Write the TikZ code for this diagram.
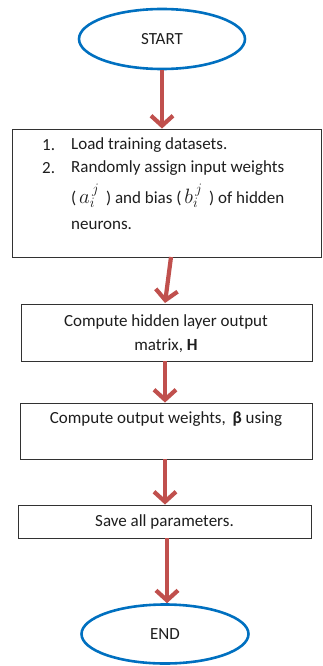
\documentclass[tikz,border=0pt]{standalone}
\usepackage{fontspec}
\setmainfont{Carlito}
\usetikzlibrary{shapes.geometric,arrows.meta}
\definecolor{termblue}{RGB}{0,112,192}
\definecolor{flowred}{RGB}{192,80,77}
\definecolor{boxline}{RGB}{50,50,50}
\definecolor{inktext}{RGB}{30,30,30}
\newcommand{\symbig}[1]{{\fontsize{21}{24}\selectfont$#1$}}
\tikzset{
  terminal/.style={ellipse,draw=termblue,line width=2.6pt,fill=white,
    inner sep=0pt,text=inktext},
  stepbox/.style={draw=boxline,line width=0.9pt,fill=white,inner sep=0pt,text=inktext},
  label/.style={text=inktext,inner sep=0pt,font=\fontsize{17}{20}\selectfont},
  flow/.style={draw=flowred,line width=4.2pt,
    -{Straight Barb[length=10pt,width=22pt]}},
}
\begin{document}
\begin{tikzpicture}[x=1pt,y=-1pt]
\useasboundingbox (0,0) rectangle (323,666);

% start and end terminals
\node[terminal,minimum width=166pt,minimum height=60pt] (start) at (162,39)
  {\fontsize{17}{20}\selectfont START};
\node[terminal,minimum width=167pt,minimum height=59pt] (end) at (165,634)
  {\fontsize{17}{20}\selectfont END};

% process boxes
\node[stepbox,minimum width=309pt,minimum height=128pt] (load) at (166.5,193) {};
\node[stepbox,minimum width=291pt,minimum height=57pt] (hidden) at (166.5,332.5) {};
\node[stepbox,minimum width=292pt,minimum height=56pt] (weights) at (166,431) {};
\node[stepbox,minimum width=293pt,minimum height=33pt] (save) at (164.5,521.5) {};

% text of the first box
\node[label,anchor=west] (n1) at (42,145) {1.};
\node[label,anchor=west] (t1) at (71,145) {Load training datasets.};
\node[label,anchor=west] (n2) at (42,168) {2.};
\node[label,anchor=west] (t2) at (71,168) {Randomly assign input weights};
\node[label,anchor=west] (t3) at (71,196)
  {(\,\symbig{a_i^{\,j}}\, ) and bias (\,\symbig{b_i^{\,j}}\, ) of hidden};
\node[label,anchor=west] (t4) at (71,225) {neurons.};

% text of the other boxes
\node[label] (h1) at (166,322) {Compute hidden layer output};
\node[label] (h2) at (166,346) {matrix, \textbf{H}};
\node[label] (w1) at (166,419) {Compute output weights, \,\textbf{β} using};
\node[label] (s1) at (164.5,522) {Save all parameters.};

% connectors
\coordinate (a2s) at (171,257);
\coordinate (a2e) at (165,303);
\draw[flow] (start.south) -- (load.north -| start.south);
\draw[flow] (a2s) -- (a2e);
\draw[flow] (hidden.south -| 165,0) -- (weights.north -| 165,0);
\draw[flow] (weights.south -| 165,0) -- (save.north -| 165,0);
\draw[flow] (save.south -| 167,0) -- (end.north -| 167,0);
\end{tikzpicture}
\end{document}
